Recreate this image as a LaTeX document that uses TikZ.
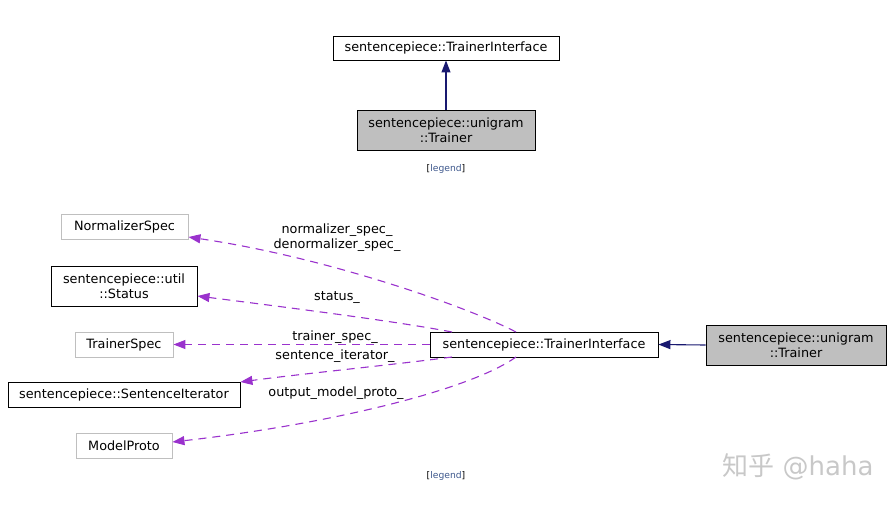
\documentclass[tikz,border=0pt]{standalone}
\usepackage{fontspec}
\setmainfont{DejaVu Sans}
\newfontfamily\cjk{Noto Sans CJK SC}
\usetikzlibrary{arrows.meta}
\definecolor{navyedge}{HTML}{191970}
\definecolor{purpedge}{HTML}{9A32CD}
\definecolor{grayfill}{HTML}{BFBFBF}
\definecolor{grayline}{HTML}{BFBFBF}
\definecolor{legendblue}{HTML}{3D578C}
\definecolor{wmark}{HTML}{C8C8C8}
\begin{document}
\begin{tikzpicture}[x=1pt,y=-1pt,
  every node/.style={font=\fontsize{12.8}{15}\selectfont, inner sep=0pt, align=center},
  classbox/.style={draw=black, line width=0.9pt, fill=white},
  focusbox/.style={draw=black, line width=0.9pt, fill=grayfill},
  extbox/.style={draw=grayline, line width=0.9pt, fill=white},
  inherit/.style={draw=navyedge, line width=1.1pt, -{Triangle[width=9pt,length=12pt,fill=navyedge]}},
  usage/.style={draw=purpedge, line width=1.1pt, dash pattern=on 8pt off 6pt, -{Triangle[width=9pt,length=12pt,fill=purpedge]}},
  elabel/.style={font=\fontsize{12.8}{15.5}\selectfont},
  legendnode/.style={font=\fontsize{9.2}{11}\selectfont}
]
\useasboundingbox (0,0) rectangle (896,504);
% top diagram
\node[classbox, minimum width=226pt, minimum height=24pt] (tiA) at (446,48) {sentencepiece::TrainerInterface};
\node[focusbox, minimum width=178pt, minimum height=40pt] (trA) at (446,130) {sentencepiece::unigram\\::Trainer};
\draw[inherit] (trA.north) -- (tiA.south);
\node[legendnode] (legA) at (446,169) {[\textcolor{legendblue}{legend}]};
% bottom diagram
\node[extbox, minimum width=127pt, minimum height=25pt] (norm) at (124.5,226.5) {NormalizerSpec};
\node[classbox, minimum width=146pt, minimum height=40pt] (stat) at (124,286) {sentencepiece::util\\::Status};
\node[extbox, minimum width=98pt, minimum height=25pt] (tspec) at (124,344.5) {TrainerSpec};
\node[classbox, minimum width=232pt, minimum height=25pt] (siter) at (124,394.5) {sentencepiece::SentenceIterator};
\node[extbox, minimum width=96pt, minimum height=25pt] (mproto) at (124,445.5) {ModelProto};
\node[classbox, minimum width=228pt, minimum height=25pt] (tiB) at (544,344.5) {sentencepiece::TrainerInterface};
\node[focusbox, minimum width=180pt, minimum height=40pt] (trB) at (796,345) {sentencepiece::unigram\\::Trainer};
\draw[inherit] (trB.west) -- (tiB.east);
\coordinate (n1) at (516,332);
\coordinate (s1) at (452,332);
\coordinate (i1) at (452,357);
\coordinate (o1) at (516,357);
\draw[usage] (n1) .. controls (470,308) and (330,258) .. (norm.east |- 0,237);
\draw[usage] (s1) .. controls (400,322) and (300,309) .. (stat.east |- 0,296);
\draw[usage] (tiB.west) -- (tspec.east);
\draw[usage] (i1) .. controls (400,364) and (300,374) .. (siter.east |- 0,382);
\draw[usage] (o1) .. controls (470,390) and (330,424) .. (mproto.east |- 0,442);
\node[elabel] (lnorm) at (337,237.5) {normalizer\_spec\_\\denormalizer\_spec\_};
\node[elabel] (lstat) at (337,298) {status\_};
\node[elabel] (ltspec) at (335,337) {trainer\_spec\_};
\node[elabel] (lsiter) at (335,356) {sentence\_iterator\_};
\node[elabel] (lmproto) at (336,393) {output\_model\_proto\_};
\node[legendnode] (legB) at (446,476) {[\textcolor{legendblue}{legend}]};
% watermark
\node[font=\fontsize{26}{28}\selectfont, text=wmark] (wm) at (798,467) {{\cjk 知乎} @haha};
\end{tikzpicture}
\end{document}
